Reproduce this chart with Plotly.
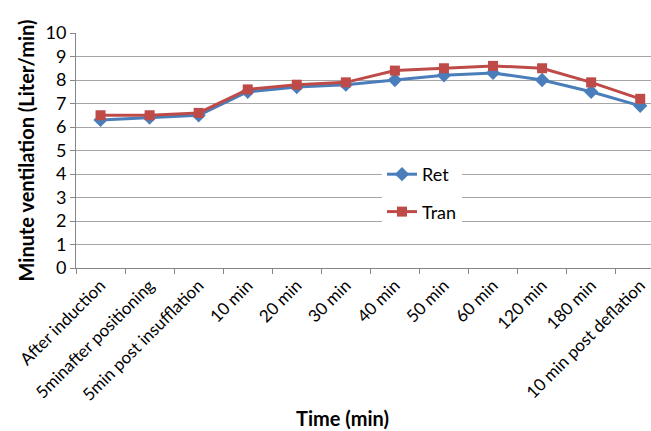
import plotly.graph_objects as go

# Time points and mean minute ventilation for each group
time_points = [
    "After induction", "5minafter positioning", "5min post insufflation",
    "10 min", "20 min", "30 min", "40 min", "50 min", "60 min",
    "120 min", "180 min", "10 min post deflation",
]
ret_values = [6.3, 6.4, 6.5, 7.5, 7.7, 7.8, 8.0, 8.2, 8.3, 8.0, 7.5, 6.9]
tran_values = [6.5, 6.5, 6.6, 7.6, 7.8, 7.9, 8.4, 8.5, 8.6, 8.5, 7.9, 7.2]
y_ticks = list(range(0, 11))

FONT = "Lato, 'Open Sans', sans-serif"
GRID = "#a6a6a6"
AXIS = "#868686"

# plot area in pixels
L, T, W, H = 76, 33, 575, 235

fig = go.Figure()
fig.add_trace(go.Scatter(
    x=time_points, y=ret_values, name="Ret", mode="lines+markers",
    legendgroup="ret",
    line=dict(color="#4a7ebb", width=3),
    marker=dict(symbol="diamond", size=11, color="#4a7ebb"),
    cliponaxis=False,
))
fig.add_trace(go.Scatter(
    x=time_points, y=tran_values, name="Tran", mode="lines+markers",
    legendgroup="tran",
    line=dict(color="#be4b48", width=3),
    marker=dict(symbol="square", size=10, color="#be4b48"),
    cliponaxis=False,
))

fig.update_layout(
    width=651, height=431,
    margin=dict(l=L, r=651 - L - W, t=T, b=431 - T - H),
    paper_bgcolor="white", plot_bgcolor="white",
    font=dict(family=FONT, color="#000000"),
    showlegend=True,
    legend=dict(
        x=(382 - L) / W, y=(268 - 156) / H, xanchor="left", yanchor="top",
        bgcolor="white", font=dict(size=18, family=FONT),
        tracegroupgap=11, borderwidth=0,
    ),
    xaxis=dict(
        type="category", range=[-0.5, 11.22], automargin=False,
        tickson="boundaries", ticks="outside", ticklen=5,
        tickcolor=AXIS, showline=True, linecolor=AXIS,
        showgrid=False, tickangle=-45,
        tickfont=dict(size=17, family=FONT),
    ),
    yaxis=dict(
        range=[0, 10], tickvals=y_ticks, ticks="outside", ticklen=5,
        automargin=False,
        tickcolor=AXIS, showline=True, linecolor=AXIS,
        showgrid=True, gridcolor=GRID, gridwidth=1, zeroline=False,
        tickfont=dict(size=18, family=FONT),
        title=dict(text="<b>Minute ventilation (Liter/min)</b>",
                   font=dict(size=20, family=FONT), standoff=5),
    ),
)

fig.add_annotation(
    text="<b>Time (min)</b>", xref="paper", yref="paper",
    x=(342 - L) / W, y=(268 - 418) / H, xanchor="center", yanchor="middle",
    showarrow=False, font=dict(size=20, family=FONT),
)

fig.write_html("out.html")
